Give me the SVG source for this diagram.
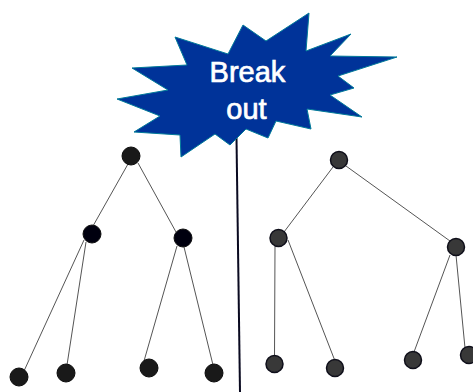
<svg xmlns="http://www.w3.org/2000/svg" width="473" height="392" viewBox="0 0 473 392">
<style>
.l{stroke:#555;stroke-width:1;fill:none}
.a{fill:#191919;stroke:#0c0c0c;stroke-width:1}
.b{fill:#00000f;stroke:#111;stroke-width:1}
.c{fill:#383838;stroke:#0f0f1a;stroke-width:1.5}
.t{font-family:"Liberation Sans",Arial,sans-serif;font-size:29px;fill:#fff;stroke:#fff;stroke-width:.7;text-anchor:middle}
</style>
<rect width="473" height="392" fill="#fff"/>
<g id="connectors">
<path id="divider" d="M236.500 138L240 392" stroke="#0a0a20" stroke-width="2" fill="none"/>
<path class="l" d="M128 164L93 226M138 163L176 232M84 240L24 371M86 242L67 365M177 246L144 361M184 247L213 365"/>
<path class="l" d="M333 167L284 232M346 166L450 241M275 246L274.500 357M288 240L335 361M450 255L414 352M456 255L465 348"/>
</g>
<g id="burst"><polygon points="309,13 306,51 351,34 330,56 397,57 338,76 354,88 330,95 362,117 307,109 311,129 276,121 268,138 246,129 230,145 215,134 181,157 180,135 134,132 160,116 117,99 168,90 132,68 187,65 175,37 228,54 243,25 266,41" fill="#003399" stroke="#007a99" stroke-width="1"/>
<text class="t" x="247.500" y="82">Break</text><text class="t" x="246.500" y="119">out</text></g>
<g id="n1"><circle class="a" cx="131" cy="156" r="9"/></g>
<g id="n2"><circle class="b" cx="92" cy="234" r="9"/></g>
<g id="n3"><circle class="b" cx="183" cy="238" r="9"/></g>
<g id="n4"><circle class="a" cx="19" cy="377" r="9"/></g>
<g id="n5"><circle class="a" cx="66" cy="373" r="9"/></g>
<g id="n6"><circle class="a" cx="149" cy="368" r="9"/></g>
<g id="n7"><circle class="a" cx="214" cy="373" r="9"/></g>
<g id="n8"><circle class="c" cx="339" cy="160" r="8.500"/></g>
<g id="n9"><circle class="c" cx="278.500" cy="238" r="8.500"/></g>
<g id="n10"><circle class="c" cx="456" cy="247" r="8.500"/></g>
<g id="n11"><circle class="c" cx="274.500" cy="364" r="8.500"/></g>
<g id="n12"><circle class="c" cx="335" cy="368" r="8.500"/></g>
<g id="n13"><circle class="c" cx="413" cy="360" r="8.500"/></g>
<g id="n14"><circle class="c" cx="469" cy="355" r="8.500"/></g>
</svg>
